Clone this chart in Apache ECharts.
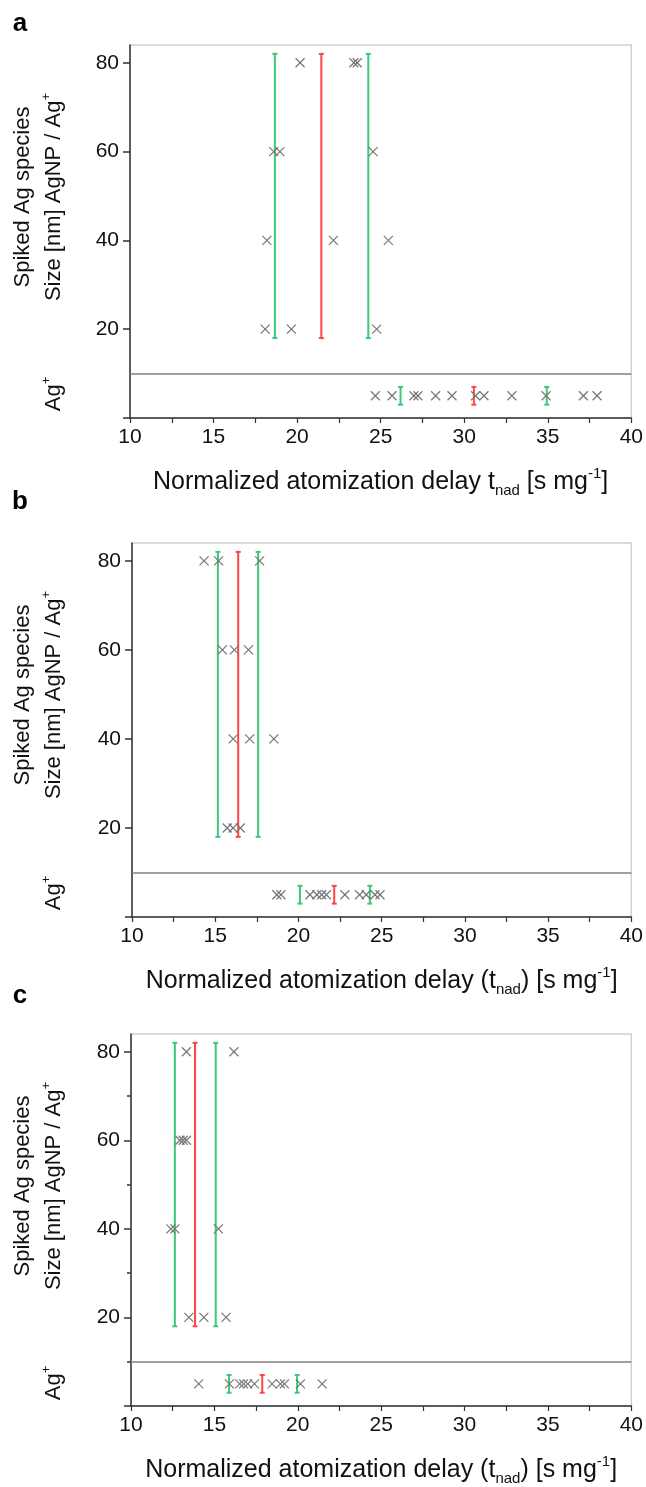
<!DOCTYPE html>
<html><head><meta charset="utf-8">
<script src="https://cdn.jsdelivr.net/npm/echarts@6/dist/echarts.min.js"></script>
<style>html,body{margin:0;padding:0;background:#fff}#c{width:646px;height:1487px}</style>
</head><body><div id="c"></div>
<script>
// ---- data ----
const sizeLevels = [80, 60, 40, 20];
const agLevel = 5;
const separatorLevel = 10;
const npBarRange = [18, 82];
const agBarRange = [3, 7];
const xTickValues = [10, 12.5, 15, 17.5, 20, 22.5, 25, 27.5, 30, 32.5, 35, 37.5, 40];
const xLabelValues = [10, 15, 20, 25, 30, 35, 40];
const yTickValues = [0, 20, 40, 60, 80];
const yLabelValues = [20, 40, 60, 80];
const yMinorTickValuesC = [10, 30, 50, 70];
const barKinds = ['sd', 'mean', 'sd'];

// panel a
const aNP = [[20.18, 23.4, 23.6], [18.6, 18.97, 24.55], [18.19, 22.17, 25.46], [18.09, 19.66, 24.76]];
const aAg = [24.68, 25.68, 26.99, 27.23, 28.29, 29.27, 30.68, 31.18, 32.85, 34.9, 37.13, 37.95];
const aNPBars = [18.67, 21.45, 24.26];
const aAgBars = [26.19, 30.58, 34.94];
// panel b
const bNP = [[14.33, 15.2, 17.67], [15.43, 16.15, 17.0], [16.08, 17.07, 18.52], [15.72, 16.07, 16.51]];
const bAg = [18.7, 18.95, 20.69, 21.11, 21.4, 21.68, 22.79, 23.67, 24.07, 24.6, 24.9];
const bNPBars = [15.16, 16.38, 17.58];
const bAgBars = [20.09, 22.15, 24.29];
// panel c
const cNP = [[13.32, 16.17], [12.93, 13.13, 13.33], [12.39, 12.63, 15.24], [13.47, 14.37, 15.7]];
const cAg = [14.06, 15.9, 16.52, 16.75, 17.0, 17.4, 18.46, 18.96, 19.2, 20.16, 21.46];
const cNPBars = [12.63, 13.84, 15.08];
const cAgBars = [15.88, 17.87, 19.96];

const xTitleA = '{n|Normalized atomization delay t}{sub|nad}{n| [s mg}{sup|-1}{n|]}';
const xTitleBC = '{n|Normalized atomization delay (t}{sub|nad}{n|) [s mg}{sup|-1}{n|]}';

// ---- styles ----
const FONT = 'Liberation Sans, Arial, sans-serif';
const GREEN = '#3cc97a', RED = '#ff4545', CROSS = '#777777';
const grids = [
  {left: 130, top: 45, width: 502, height: 373},
  {left: 132, top: 543, width: 502, height: 374},
  {left: 131, top: 1034, width: 502, height: 373}
];
const panels = [
  {np: aNP, ag: aAg, npBars: aNPBars, agBars: aAgBars, title: xTitleA},
  {np: bNP, ag: bAg, npBars: bNPBars, agBars: bAgBars, title: xTitleBC},
  {np: cNP, ag: cAg, npBars: cNPBars, agBars: cAgBars, title: xTitleBC}
];
const richT = {
  n: {fontSize: 25, fontFamily: FONT, color: '#111', lineHeight: 32},
  sub: {fontSize: 15, fontFamily: FONT, color: '#111', lineHeight: 32, verticalAlign: 'bottom'},
  sup: {fontSize: 15, fontFamily: FONT, color: '#111', lineHeight: 32, verticalAlign: 'top'}
};

function crossItem(params, api) {
  const p = api.coord([api.value(0), api.value(1)]);
  const s = 4.5;
  const st = {stroke: CROSS, lineWidth: 1.2};
  return {type: 'group', children: [
    {type: 'line', shape: {x1: p[0] - s, y1: p[1] - s, x2: p[0] + s, y2: p[1] + s}, style: st},
    {type: 'line', shape: {x1: p[0] - s, y1: p[1] + s, x2: p[0] + s, y2: p[1] - s}, style: st}
  ]};
}
function barItem(params, api) {
  const x = api.value(0);
  const lo = api.coord([x, api.value(1)]);
  const hi = api.coord([x, api.value(2)]);
  const col = api.value(3) === 1 ? RED : GREEN;
  const st = {stroke: col, lineWidth: 2};
  const w = 2.5;
  return {type: 'group', children: [
    {type: 'line', shape: {x1: lo[0], y1: lo[1], x2: hi[0], y2: hi[1]}, style: st},
    {type: 'line', shape: {x1: hi[0] - w, y1: hi[1], x2: hi[0] + w, y2: hi[1]}, style: st},
    {type: 'line', shape: {x1: lo[0] - w, y1: lo[1], x2: lo[0] + w, y2: lo[1]}, style: st}
  ]};
}

const option = {
  animation: false,
  backgroundColor: '#fff',
  grid: grids.map(g => Object.assign({show: true, borderColor: '#cfcfcf', borderWidth: 1.5, backgroundColor: 'transparent'}, g)),
  xAxis: panels.map((p, i) => ({
    type: 'value', gridIndex: i, min: 10, max: 40,
    axisLine: {show: true, onZero: false, lineStyle: {color: '#333', width: 1.5}},
    axisTick: {show: true, inside: false, length: 5, customValues: xTickValues, lineStyle: {color: '#333', width: 1.2}},
    axisLabel: {customValues: xLabelValues, fontSize: 21, fontFamily: FONT, color: '#111', margin: 9},
    splitLine: {show: false},
    name: p.title, nameLocation: 'middle', nameGap: 48,
    nameTextStyle: {rich: richT}
  })),
  yAxis: panels.map((p, i) => ({
    type: 'value', gridIndex: i, min: 0, max: 84,
    axisLine: {show: true, onZero: false, lineStyle: {color: '#333', width: 1.5}},
    axisTick: {show: true, inside: false, length: 7, customValues: yTickValues, lineStyle: {color: '#333', width: 1.5}},
    axisLabel: {customValues: yLabelValues, fontSize: 21, fontFamily: FONT, color: '#111', margin: 11},
    splitLine: {show: false}
  })).concat([{
    type: 'value', gridIndex: 2, min: 0, max: 84, position: 'left',
    axisLine: {show: false},
    axisTick: {show: true, inside: false, length: 4, customValues: yMinorTickValuesC, lineStyle: {color: '#333', width: 1.5}},
    axisLabel: {show: false}, splitLine: {show: false}
  }]),
  series: [],
  graphic: []
};

panels.forEach((p, i) => {
  const pts = [];
  p.np.forEach((row, k) => row.forEach(x => pts.push([x, sizeLevels[k]])));
  p.ag.forEach(x => pts.push([x, agLevel]));
  const bars = [];
  p.npBars.forEach((x, k) => bars.push([x, npBarRange[0], npBarRange[1], barKinds[k] === 'mean' ? 1 : 0]));
  p.agBars.forEach((x, k) => bars.push([x, agBarRange[0], agBarRange[1], barKinds[k] === 'mean' ? 1 : 0]));
  option.series.push({
    type: 'custom', xAxisIndex: i, yAxisIndex: i, renderItem: barItem, data: bars,
    encode: {x: 0, y: [1, 2]}, z: 2
  });
  option.series.push({
    type: 'custom', xAxisIndex: i, yAxisIndex: i, renderItem: crossItem, data: pts,
    encode: {x: 0, y: 1}, z: 3,
    markLine: {silent: true, symbol: 'none', label: {show: false},
      lineStyle: {color: '#808080', type: 'solid', width: 1.5},
      data: [{yAxis: separatorLevel}]}
  });
});

// panel letters
[['a', 20, 24], ['b', 20, 502], ['c', 20, 996]].forEach(t => {
  option.graphic.push({type: 'text', x: t[1], y: t[2],
    style: {text: t[0], font: 'bold 26px ' + FONT, fill: '#000', textAlign: 'center', textVerticalAlign: 'middle'}});
});
// y axis names
const richY = {
  n: {fontSize: 22, fontFamily: FONT, fill: '#111', lineHeight: 28},
  sup: {fontSize: 13, fontFamily: FONT, fill: '#111', lineHeight: 28, verticalAlign: 'top'}
};
grids.forEach(g => {
  const cy = g.top + 152;
  option.graphic.push({type: 'text', x: 23, y: cy, rotation: Math.PI / 2,
    style: {text: '{n|Spiked Ag species}', rich: richY, textAlign: 'center', textVerticalAlign: 'middle'}});
  option.graphic.push({type: 'text', x: 54, y: cy, rotation: Math.PI / 2,
    style: {text: '{n|Size [nm] AgNP / Ag}{sup|+}', rich: richY, textAlign: 'center', textVerticalAlign: 'middle'}});
  option.graphic.push({type: 'text', x: 54, y: g.top + g.height - 24, rotation: Math.PI / 2,
    style: {text: '{n|Ag}{sup|+}', rich: richY, textAlign: 'center', textVerticalAlign: 'middle'}});
});

const chart = echarts.init(document.getElementById('c'), null, {renderer: 'canvas'});
chart.setOption(option);
</script>
</body></html>
